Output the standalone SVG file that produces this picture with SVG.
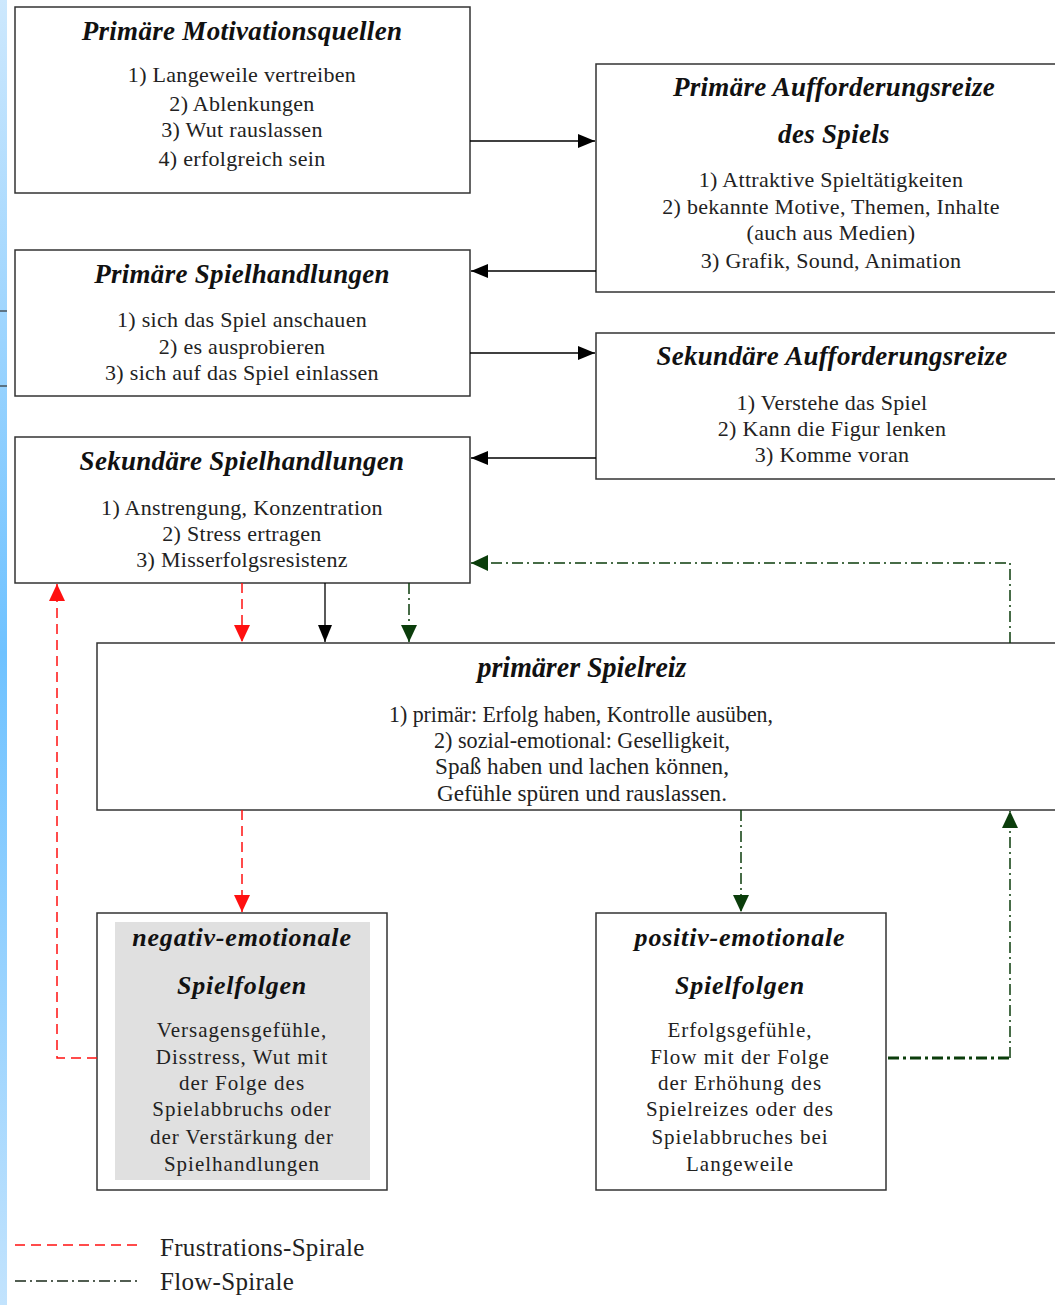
<svg xmlns="http://www.w3.org/2000/svg" width="1055" height="1305" viewBox="0 0 1055 1305">
<defs>
<linearGradient id="strip" x1="0" y1="0" x2="0" y2="1">
<stop offset="0" stop-color="#cde8fd"/>
<stop offset="0.5" stop-color="#6fc2ff"/>
<stop offset="1" stop-color="#c2e3fd"/>
</linearGradient>
<marker id="aBlack" markerUnits="userSpaceOnUse" markerWidth="18" markerHeight="16" refX="17" refY="8" orient="auto"><path d="M0,1 L17,8 L0,15 z" fill="#000"/></marker>
<marker id="aRed" markerUnits="userSpaceOnUse" markerWidth="18" markerHeight="18" refX="17" refY="9" orient="auto"><path d="M0,1 L17,9 L0,17 z" fill="#ff1010"/></marker>
<marker id="aGreen" markerUnits="userSpaceOnUse" markerWidth="18" markerHeight="18" refX="17" refY="9" orient="auto"><path d="M0,1 L17,9 L0,17 z" fill="#0b3d0b"/></marker>
</defs>
<style>
.box{fill:#fff;stroke:#333;stroke-width:1.5}
.t{font-family:"Liberation Serif","Times New Roman",serif;font-weight:bold;font-style:italic;font-size:27px;letter-spacing:0.3px;fill:#111;text-anchor:middle}
.b{font-family:"Liberation Serif","Times New Roman",serif;font-size:22px;letter-spacing:0.3px;fill:#222;text-anchor:middle}
.t6{font-size:29px;letter-spacing:0}
.b6{font-size:23px;letter-spacing:0}
.tw{font-size:26px;letter-spacing:0.8px}
.bw{font-size:21px;letter-spacing:1px}
.solid{fill:none;stroke:#000;stroke-width:1.3}
.red{fill:none;stroke:#ff1010;stroke-width:1.5;stroke-dasharray:10,6}
.green{fill:none;stroke:#0b3d0b;stroke-width:1.5;stroke-dasharray:11,4,2,4}
.lg{font-family:"Liberation Serif","Times New Roman",serif;font-size:25px;letter-spacing:0.3px;fill:#222}
</style>
<rect x="0" y="0" width="1055" height="1305" fill="#fff"/>
<rect x="0" y="0" width="7" height="1305" fill="url(#strip)"/>
<line x1="0" y1="311" x2="7" y2="311" stroke="#333" stroke-width="1.2"/>
<line x1="0" y1="386" x2="7" y2="386" stroke="#333" stroke-width="1.2"/>

<g id="n1">
<rect class="box" x="15" y="7" width="455" height="186"/>
<text class="t" x="242" y="40">Primäre Motivationsquellen</text>
<text class="b" x="242" y="82">1) Langeweile vertreiben</text>
<text class="b" x="242" y="111">2) Ablenkungen</text>
<text class="b" x="242" y="137">3) Wut rauslassen</text>
<text class="b" x="242" y="166">4) erfolgreich sein</text>
</g>
<g id="n2">
<rect class="box" x="596" y="64" width="470" height="228"/>
<text class="t" x="834" y="96">Primäre Aufforderungsreize</text>
<text class="t" x="834" y="143">des Spiels</text>
<text class="b" x="831" y="187">1) Attraktive Spieltätigkeiten</text>
<text class="b" x="831" y="214">2) bekannte Motive, Themen, Inhalte</text>
<text class="b" x="831" y="240">(auch aus Medien)</text>
<text class="b" x="831" y="268">3) Grafik, Sound, Animation</text>
</g>
<g id="n3">
<rect class="box" x="15" y="250" width="455" height="146"/>
<text class="t" x="242" y="283">Primäre Spielhandlungen</text>
<text class="b" x="242" y="327">1) sich das Spiel anschauen</text>
<text class="b" x="242" y="354">2) es ausprobieren</text>
<text class="b" x="242" y="380">3) sich auf das Spiel einlassen</text>
</g>
<g id="n4">
<rect class="box" x="596" y="333" width="470" height="146"/>
<text class="t" x="832" y="365">Sekundäre Aufforderungsreize</text>
<text class="b" x="832" y="410">1) Verstehe das Spiel</text>
<text class="b" x="832" y="436">2) Kann die Figur lenken</text>
<text class="b" x="832" y="462">3) Komme voran</text>
</g>
<g id="n5">
<rect class="box" x="15" y="437" width="455" height="146"/>
<text class="t" x="242" y="470">Sekundäre Spielhandlungen</text>
<text class="b" x="242" y="515">1) Anstrengung, Konzentration</text>
<text class="b" x="242" y="541">2) Stress ertragen</text>
<text class="b" x="242" y="567">3) Misserfolgsresistenz</text>
</g>
<g id="n6">
<rect class="box" x="97" y="643" width="970" height="167"/>
<text class="t t6" x="582" y="677" textLength="209" lengthAdjust="spacingAndGlyphs">primärer Spielreiz</text>
<text class="b b6" x="581" y="722" textLength="384" lengthAdjust="spacingAndGlyphs">1) primär: Erfolg haben, Kontrolle ausüben,</text>
<text class="b b6" x="582" y="748" textLength="296" lengthAdjust="spacingAndGlyphs">2) sozial-emotional: Geselligkeit,</text>
<text class="b b6" x="582" y="774" textLength="294" lengthAdjust="spacingAndGlyphs">Spaß haben und lachen können,</text>
<text class="b b6" x="582" y="801" textLength="290" lengthAdjust="spacingAndGlyphs">Gefühle spüren und rauslassen.</text>
</g>
<g id="n7">
<rect class="box" x="97" y="913" width="290" height="277"/>
<rect x="115" y="922" width="255" height="258" fill="#e0e0e0"/>
<text class="t tw" x="242" y="946">negativ-emotionale</text>
<text class="t tw" x="242" y="994">Spielfolgen</text>
<text class="b bw" x="242" y="1037">Versagensgefühle,</text>
<text class="b bw" x="242" y="1064">Disstress, Wut mit</text>
<text class="b bw" x="242" y="1090">der Folge des</text>
<text class="b bw" x="242" y="1116">Spielabbruchs oder</text>
<text class="b bw" x="242" y="1144">der Verstärkung der</text>
<text class="b bw" x="242" y="1171">Spielhandlungen</text>
</g>
<g id="n8">
<rect class="box" x="596" y="913" width="290" height="277"/>
<text class="t tw" x="740" y="946">positiv-emotionale</text>
<text class="t tw" x="740" y="994">Spielfolgen</text>
<text class="b bw" x="740" y="1037">Erfolgsgefühle,</text>
<text class="b bw" x="740" y="1064">Flow mit der Folge</text>
<text class="b bw" x="740" y="1090">der Erhöhung des</text>
<text class="b bw" x="740" y="1116">Spielreizes oder des</text>
<text class="b bw" x="740" y="1144">Spielabbruches bei</text>
<text class="b bw" x="740" y="1171">Langeweile</text>
</g>

<g id="connectors">
<line class="solid" x1="470" y1="141" x2="595" y2="141" marker-end="url(#aBlack)"/>
<line class="solid" x1="596" y1="271" x2="471" y2="271" marker-end="url(#aBlack)"/>
<line class="solid" x1="470" y1="353" x2="595" y2="353" marker-end="url(#aBlack)"/>
<line class="solid" x1="596" y1="458" x2="471" y2="458" marker-end="url(#aBlack)"/>
<line class="solid" x1="325" y1="583" x2="325" y2="642" marker-end="url(#aBlack)"/>
<line class="red" x1="242" y1="583" x2="242" y2="642" marker-end="url(#aRed)"/>
<line class="green" x1="409" y1="583" x2="409" y2="642" marker-end="url(#aGreen)"/>
<line class="red" x1="242" y1="810" x2="242" y2="912" marker-end="url(#aRed)"/>
<polyline class="red" points="97,1058 57,1058 57,584" marker-end="url(#aRed)"/>
<line class="green" x1="741" y1="810" x2="741" y2="912" marker-end="url(#aGreen)"/>
<polyline class="green" points="1010,643 1010,563 471,563" marker-end="url(#aGreen)"/>
<polyline class="green" points="1010,1058 1010,811" marker-end="url(#aGreen)"/>
<line x1="888" y1="1058" x2="1010" y2="1058" stroke="#0b3d0b" stroke-width="3" stroke-dasharray="11,4,3,4"/>
</g>

<g id="legend">
<line x1="15" y1="1245" x2="138" y2="1245" stroke="#ff1010" stroke-width="1.5" stroke-dasharray="10,6"/>
<text class="lg" x="160" y="1256">Frustrations-Spirale</text>
<line x1="15" y1="1281" x2="138" y2="1281" stroke="#1a2a1a" stroke-width="1.5" stroke-dasharray="11,4,2,4"/>
<text class="lg" x="160" y="1290">Flow-Spirale</text>
</g>
</svg>
